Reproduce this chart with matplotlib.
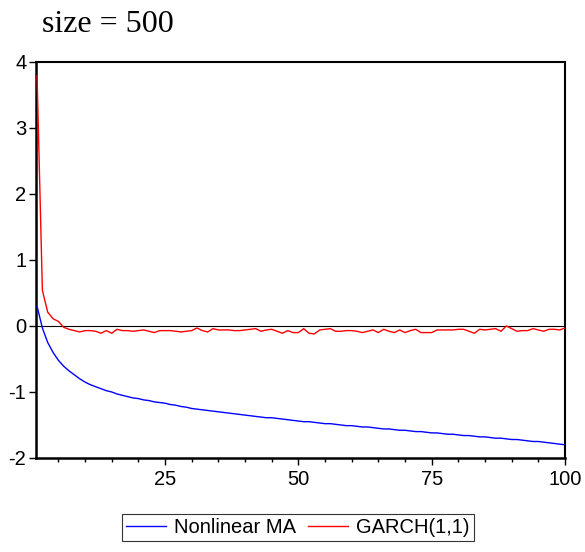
import matplotlib
matplotlib.use("Agg")
import matplotlib.pyplot as plt
import numpy as np
from matplotlib.ticker import MultipleLocator, FixedLocator

plt.rcParams["axes.unicode_minus"] = False
plt.rcParams["font.family"] = ["Liberation Sans", "DejaVu Sans"]

# horizon 1..100
steps = np.arange(1, 101)

nonlinear_ma = [
    0.30, -0.03, -0.25, -0.40, -0.52, -0.61, -0.68, -0.74, -0.80, -0.85,
    -0.89, -0.92, -0.95, -0.98, -1.00, -1.03, -1.05, -1.07, -1.09, -1.10,
    -1.12, -1.13, -1.15, -1.16, -1.17, -1.19, -1.20, -1.22, -1.23, -1.25,
    -1.26, -1.27, -1.28, -1.29, -1.30, -1.31, -1.32, -1.33, -1.34, -1.35,
    -1.36, -1.37, -1.38, -1.39, -1.39, -1.40, -1.41, -1.42, -1.43, -1.44,
    -1.45, -1.45, -1.46, -1.47, -1.48, -1.48, -1.49, -1.50, -1.51, -1.51,
    -1.52, -1.53, -1.53, -1.54, -1.55, -1.56, -1.56, -1.57, -1.58, -1.58,
    -1.59, -1.60, -1.60, -1.61, -1.62, -1.62, -1.63, -1.64, -1.64, -1.65,
    -1.66, -1.66, -1.67, -1.68, -1.68, -1.69, -1.70, -1.70, -1.71, -1.72,
    -1.72, -1.73, -1.74, -1.75, -1.75, -1.76, -1.77, -1.78, -1.79, -1.80,
]

garch = [
    3.79, 0.54, 0.21, 0.11, 0.07, -0.02, -0.05, -0.07, -0.09, -0.07,
    -0.07, -0.08, -0.11, -0.07, -0.11, -0.05, -0.07, -0.07, -0.08, -0.07,
    -0.06, -0.08, -0.10, -0.07, -0.07, -0.07, -0.08, -0.09, -0.08, -0.07,
    -0.03, -0.07, -0.09, -0.04, -0.06, -0.06, -0.06, -0.07, -0.07, -0.06,
    -0.05, -0.04, -0.08, -0.06, -0.05, -0.08, -0.11, -0.07, -0.10, -0.10,
    -0.04, -0.11, -0.12, -0.06, -0.05, -0.04, -0.08, -0.08, -0.07, -0.07,
    -0.08, -0.10, -0.08, -0.06, -0.10, -0.05, -0.08, -0.10, -0.06, -0.10,
    -0.07, -0.05, -0.10, -0.10, -0.10, -0.06, -0.06, -0.06, -0.06, -0.05,
    -0.05, -0.08, -0.11, -0.05, -0.06, -0.05, -0.04, -0.08, 0.00, -0.04,
    -0.08, -0.07, -0.07, -0.04, -0.06, -0.08, -0.05, -0.05, -0.06, -0.03,
]

fig = plt.figure(figsize=(5.85, 5.52), dpi=100)
ax = fig.add_axes([0.0615, 0.1703, 0.9043, 0.7174])

ax.axhline(0, color="black", linewidth=0.8, zorder=1)
ax.plot(steps, nonlinear_ma, color="#0000ff", linewidth=1.0,
        label="Nonlinear MA", zorder=3)
ax.plot(steps, garch, color="#ff0000", linewidth=1.0,
        label="GARCH(1,1)", zorder=3)

ax.set_xlim(0.8, 100)
ax.set_ylim(-2, 4)
ax.xaxis.set_major_locator(FixedLocator([25, 50, 75, 100]))
ax.xaxis.set_minor_locator(MultipleLocator(5))
ax.yaxis.set_major_locator(MultipleLocator(1))

ax.tick_params(axis="both", which="major", direction="out", length=5,
               width=1.0, labelsize=14.5, pad=2)
ax.tick_params(axis="x", which="minor", direction="out", length=3, width=1.0)
ax.tick_params(axis="x", pad=4)

for side in ["left", "bottom"]:
    ax.spines[side].set_linewidth(1.8)
for side in ["top", "right"]:
    ax.spines[side].set_linewidth(1.5)

fig.text(0.072, 0.942, "size = 500", fontsize=23, family="Liberation Serif",
         ha="left", va="baseline")

leg = fig.legend(loc="center", bbox_to_anchor=(0.509, 0.045), ncol=2,
                 fontsize=14.5, frameon=True, fancybox=False, shadow=False,
                 handlelength=2.0, handletextpad=0.4, columnspacing=0.6,
                 borderpad=0.2, borderaxespad=0)
leg.get_frame().set_edgecolor("black")
leg.get_frame().set_linewidth(0.8)

fig.savefig("out.png", dpi=100)
